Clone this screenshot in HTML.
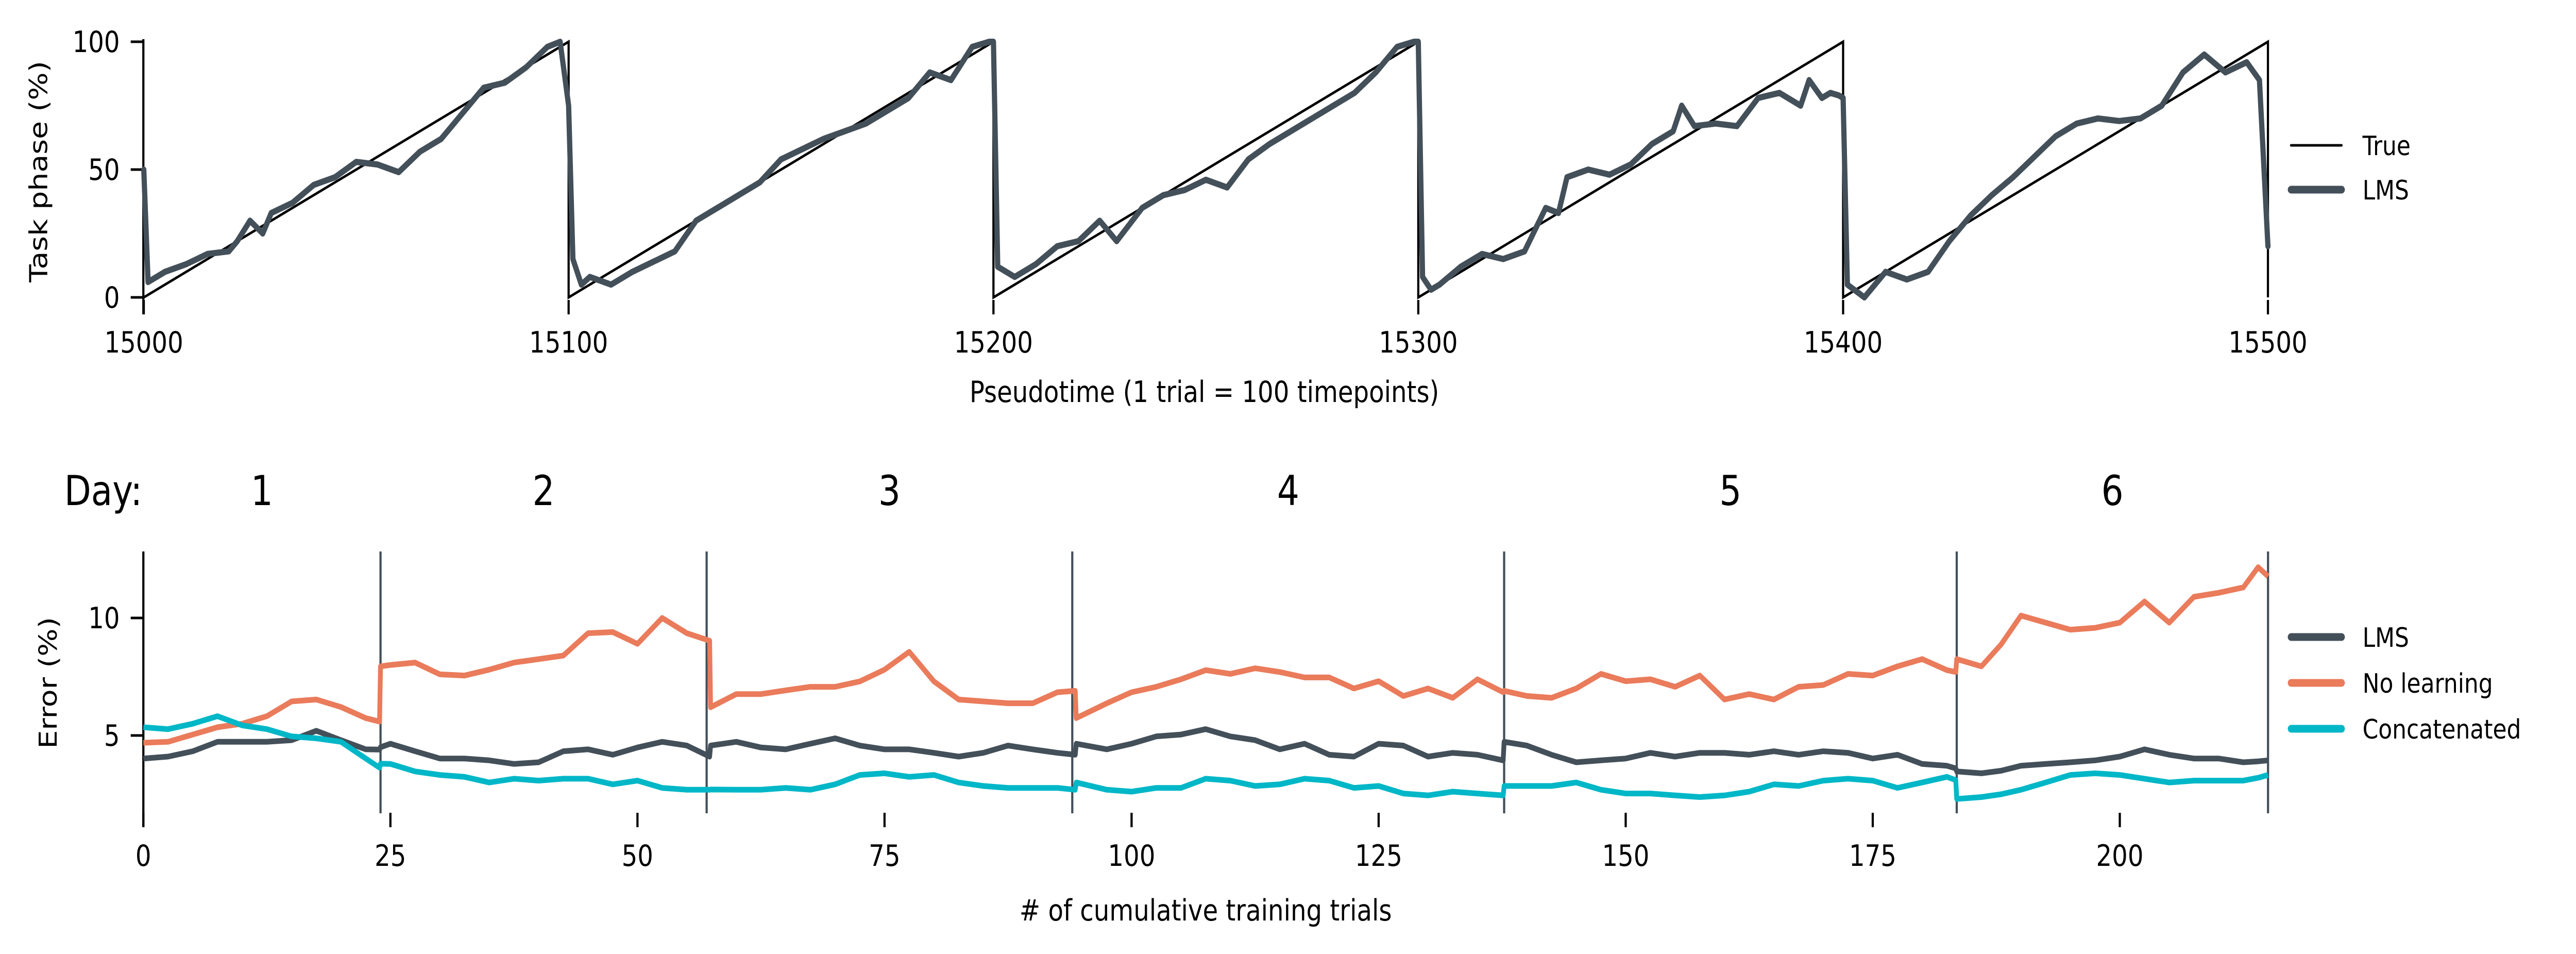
<!DOCTYPE html>
<html><head><meta charset="utf-8"><style>
html,body{margin:0;padding:0;background:#fff;width:100%;height:100%;overflow:hidden;}
svg{display:block;position:absolute;left:0;top:0;width:100vw;height:100vh;font-family:"DejaVu Sans","Liberation Sans",sans-serif;}
</style></head><body>
<svg id="fig" viewBox="0 0 5912 1851" preserveAspectRatio="none" xmlns="http://www.w3.org/2000/svg">
<g id="topchart"></g>
<g id="botchart"></g>
</svg>
<script>
// ---- top chart data ----
const topTicks = [15000, 15100, 15200, 15300, 15400, 15500];
const topYTicks = [0, 50, 100];
const lmsT = [0,1,5,10,15,20,22,25,28,30,35,40,45,50,55,60,65,70,75,80,85,90,95,98,100,
 101,103,105,110,115,120,125,130,135,140,145,150,155,160,165,170,175,180,185,190,195,199,200,
 201,205,210,215,220,225,229,235,240,245,250,255,260,265,270,275,280,285,290,295,299,300,
 301,303,305,310,315,320,325,330,333,335,340,345,350,355,360,362,365,370,375,380,385,390,392,395,397,399,400,
 401,405,410,415,420,425,430,435,440,445,450,455,460,465,470,475,480,485,490,495,498,500];
const lmsV = [50,6,10,13,17,18,22,30,25,33,37,44,47,53,52,49,57,62,72,82,84,90,98,100,75,
 15,5,8,5,10,14,18,30,35,40,45,54,58,62,65,68,73,78,88,85,98,100,100,
 12,8,13,20,22,30,22,35,40,42,46,43,54,60,65,70,75,80,88,98,100,100,
 8,3,5,12,17,15,18,35,33,47,50,48,52,60,65,75,67,68,67,78,80,75,85,78,80,79,78,
 5,0,10,7,10,22,32,40,47,55,63,68,70,69,70,75,88,95,88,92,85,20];
const trueT = [0,100,100,200,200,300,300,400,400,500,500];
const trueV = [0,100,0,100,0,100,0,100,0,100,0];

// ---- bottom chart data ----
const botXTicks = [0,25,50,75,100,125,150,175,200];
const botYTicks = [5,10];
const dayBounds = [24,57,94,137.7,183.5,215];
const dayLabels = ["1","2","3","4","5","6"];
const errT = [0,2.5,5,7.5,10,12.5,15,17.5,20,22.5,23.9,24,25,27.5,30,32.5,35,37.5,40,42.5,45,47.5,50,52.5,55,57.3,57.4,60,62.5,65,67.5,70,72.5,75,77.5,80,82.5,85,87.5,90,92.5,94.3,94.4,97.5,100,102.5,105,107.5,110,112.5,115,117.5,120,122.5,125,127.5,130,132.5,135,137.6,137.7,140,142.5,145,147.5,150,152.5,155,157.5,160,162.5,165,167.5,170,172.5,175,177.5,180,182.5,183.4,183.5,186,188,190,192.5,195,197.5,200,202.5,205,207.5,210,212.5,214,215];
const noLearn = [4.69,4.73,5.04,5.35,5.5,5.82,6.45,6.53,6.21,5.74,5.59,7.94,8.0,8.1,7.6,7.55,7.8,8.1,8.25,8.4,9.35,9.4,8.9,10.0,9.35,9.03,6.2,6.76,6.76,6.92,7.07,7.07,7.3,7.8,8.56,7.3,6.53,6.45,6.37,6.37,6.84,6.9,5.74,6.37,6.84,7.07,7.39,7.78,7.62,7.86,7.7,7.47,7.47,7.0,7.31,6.68,7.0,6.6,7.39,6.84,6.9,6.68,6.6,7.0,7.62,7.31,7.39,7.07,7.55,6.53,6.76,6.53,7.07,7.15,7.62,7.55,7.94,8.25,7.78,7.7,8.25,7.94,8.88,10.1,9.8,9.5,9.58,9.8,10.7,9.8,10.9,11.07,11.3,12.16,11.77];
const lmsErr = [4.02,4.1,4.33,4.73,4.73,4.73,4.8,5.2,4.8,4.41,4.4,4.5,4.65,4.33,4.02,4.02,3.94,3.79,3.86,4.33,4.41,4.18,4.49,4.73,4.57,4.1,4.57,4.73,4.49,4.41,4.65,4.88,4.57,4.41,4.41,4.26,4.1,4.26,4.57,4.41,4.26,4.18,4.65,4.41,4.65,4.96,5.04,5.27,4.96,4.8,4.41,4.65,4.18,4.1,4.65,4.57,4.1,4.26,4.18,3.94,4.73,4.57,4.18,3.86,3.94,4.02,4.26,4.1,4.26,4.26,4.18,4.33,4.18,4.33,4.26,4.02,4.18,3.79,3.71,3.6,3.47,3.39,3.5,3.71,3.79,3.86,3.94,4.1,4.41,4.18,4.02,4.02,3.86,3.9,3.94];
const concat = [5.35,5.27,5.5,5.82,5.43,5.27,4.96,4.88,4.73,4.02,3.63,3.8,3.79,3.47,3.32,3.24,3.0,3.16,3.08,3.16,3.16,2.92,3.08,2.77,2.69,2.69,2.7,2.69,2.69,2.77,2.69,2.92,3.32,3.39,3.24,3.32,3.0,2.85,2.77,2.77,2.77,2.69,3.0,2.69,2.61,2.77,2.77,3.16,3.08,2.85,2.92,3.16,3.08,2.77,2.85,2.53,2.45,2.61,2.53,2.45,2.85,2.85,2.85,3.0,2.69,2.53,2.53,2.45,2.38,2.45,2.61,2.92,2.85,3.08,3.16,3.08,2.77,3.0,3.24,3.1,2.3,2.38,2.5,2.69,3.0,3.32,3.39,3.32,3.16,3.0,3.08,3.08,3.08,3.2,3.32];

const NS = "http://www.w3.org/2000/svg";
function mk(parent, tag, attrs, text){
  const e = document.createElementNS(NS, tag);
  for (const k in attrs) e.setAttribute(k, attrs[k]);
  if (text !== undefined) e.textContent = text;
  parent.appendChild(e);
  return e;
}
const tx = v => 330 + (v - 15000) * 9.75;
const ty = v => 577 - v * 4.96;
const bx = v => 329 + v * 22.68;
const by = v => 1427 - (v - 5) * 45.6;

const topG = document.getElementById('topchart');
const botG = document.getElementById('botchart');

let sp = mk(topG, 'line', {x1:329, y1:76, x2:329, y2:610, stroke:'#000', 'stroke-width':5});


topYTicks.forEach(v => {
  const t = mk(topG, 'line', {x1:300, y1:ty(v), x2:329, y2:ty(v), stroke:'#000', 'stroke-width':5});
  
  
  const l = mk(topG, 'text', {x:275, y:ty(v)+20, 'text-anchor':'end', 'font-size':57}, String(v));
  
  
});
topTicks.forEach(v => {
  const t = mk(topG, 'line', {x1:tx(v), y1:582, x2:tx(v), y2:610, stroke:'#000', 'stroke-width':5});
  
  
  const l = mk(topG, 'text', {x:tx(v), y:684, 'text-anchor':'middle', 'font-size':57}, String(v));
  
  
});
let tl = mk(topG, 'text', {x:2764, y:780, 'text-anchor':'middle', 'font-size':57}, 'Pseudotime (1 trial = 100 timepoints)');


tl = mk(topG, 'text', {x:0, y:0, 'text-anchor':'middle', 'font-size':57, transform:'translate(108,333) rotate(-90)'}, 'Task phase (%)');



let d = trueT.map((t,i) => (i?'L':'M') + tx(15000+t).toFixed(1) + ',' + ty(trueV[i]).toFixed(1)).join('');
let p = mk(topG, 'path', {d:d, fill:'none', stroke:'#000', 'stroke-width':5, 'stroke-linejoin':'miter'});


d = lmsT.map((t,i) => (i?'L':'M') + tx(15000+t).toFixed(1) + ',' + ty(lmsV[i]).toFixed(1)).join('');
p = mk(topG, 'path', {d:d, fill:'none', stroke:'#434f59', 'stroke-width':12, 'stroke-linejoin':'round', 'stroke-linecap':'round'});



[['True','#000',5,282],['LMS','#434f59',15,368]].forEach(e => {
  const g = mk(topG, 'g', {});
  
  
  mk(g, 'line', {x1:5258, y1:e[3], x2:5374, y2:e[3], stroke:e[1], 'stroke-width':e[2], 'stroke-linecap':'round'});
  mk(g, 'text', {x:5422, y:e[3]+19, 'font-size':52}, e[0]);
});

sp = mk(botG, 'line', {x1:329, y1:1070, x2:329, y2:1605, stroke:'#000', 'stroke-width':5});


botYTicks.forEach(v => {
  const t = mk(botG, 'line', {x1:300, y1:by(v), x2:329, y2:by(v), stroke:'#000', 'stroke-width':5});
  
  
  const l = mk(botG, 'text', {x:275, y:by(v)+20, 'text-anchor':'end', 'font-size':57}, String(v));
  
  
});
botXTicks.forEach(v => {
  const t = mk(botG, 'line', {x1:bx(v), y1:1577, x2:bx(v), y2:1605, stroke:'#000', 'stroke-width':5});
  
  
  const l = mk(botG, 'text', {x:bx(v), y:1680, 'text-anchor':'middle', 'font-size':57}, String(v));
  
  
});
tl = mk(botG, 'text', {x:2767, y:1786, 'text-anchor':'middle', 'font-size':57}, '# of cumulative training trials');


tl = mk(botG, 'text', {x:0, y:0, 'text-anchor':'middle', 'font-size':57, transform:'translate(130,1325) rotate(-90)'}, 'Error (%)');



tl = mk(botG, 'text', {x:237, y:980, 'text-anchor':'middle', 'font-size':80}, 'Day:');


let prev = 0;
dayBounds.forEach((b,i) => {
  const ln = mk(botG, 'line', {x1:bx(b), y1:1070, x2:bx(b), y2:1578, stroke:'#434f59', 'stroke-width':5});
  
  
  const lb = mk(botG, 'text', {x:bx((prev+b)/2), y:980, 'text-anchor':'middle', 'font-size':80}, dayLabels[i]);
  
  
  prev = b;
});

[[lmsErr,'#434f59','lms-error-line'],[noLearn,'#ea7b5b','no-learning-error-line'],[concat,'#00b7c7','concatenated-error-line']].forEach(s => {
  const dd = errT.map((t,i) => (i?'L':'M') + bx(t).toFixed(1) + ',' + by(s[0][i]).toFixed(1)).join('');
  const pp = mk(botG, 'path', {d:dd, fill:'none', stroke:s[1], 'stroke-width':11, 'stroke-linejoin':'round'});
  
  
});

[['LMS','#434f59',1236],['No learning','#ea7b5b',1325],['Concatenated','#00b7c7',1414]].forEach(e => {
  const g = mk(botG, 'g', {});
  
  
  mk(g, 'line', {x1:5258, y1:e[2], x2:5374, y2:e[2], stroke:e[1], 'stroke-width':15, 'stroke-linecap':'round'});
  mk(g, 'text', {x:5422, y:e[2]+19, 'font-size':52}, e[0]);
});
</script>
</body></html>
